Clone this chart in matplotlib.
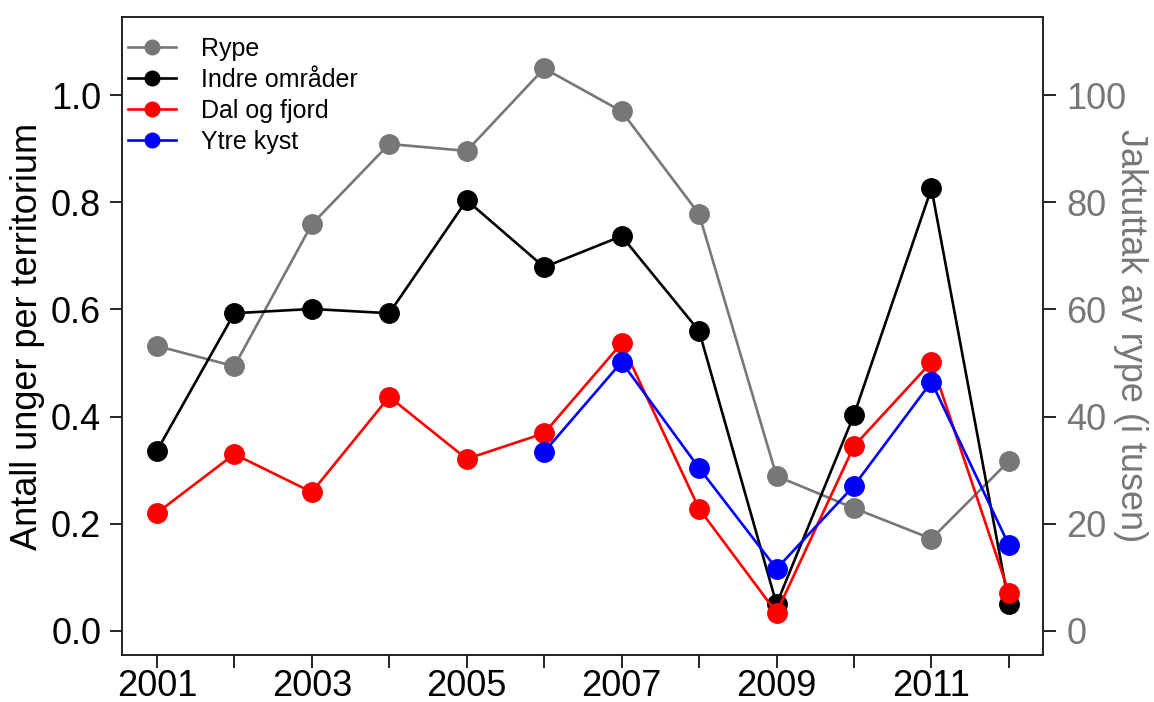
import numpy as np
import matplotlib
matplotlib.use("Agg")
import matplotlib.pyplot as plt

plt.rcParams["font.family"] = ["Liberation Sans", "DejaVu Sans"]

# ---- data ----
years = np.arange(2001, 2013)
rype = [53.2, 49.4, 75.9, 90.9, 89.6, 105.0, 97.0, 77.8, 28.9, 22.9, 17.2, 31.7]
indre = [0.336, 0.593, 0.601, 0.593, 0.804, 0.679, 0.737, 0.560, 0.050, 0.403, 0.826, 0.050]
dal = [0.220, 0.330, 0.259, 0.437, 0.321, 0.369, 0.537, 0.228, 0.034, 0.345, 0.502, 0.071]
ytre_years = np.arange(2006, 2013)
ytre = [0.334, 0.502, 0.304, 0.116, 0.271, 0.465, 0.160]

GREY = "#777777"

fig = plt.figure(figsize=(11.54, 7.02), dpi=100)
ax1 = fig.add_axes([122/1154, 1-655/702, (1043-122)/1154, (655-17)/702])
ax2 = ax1.twinx()

ms, lw = 14, 1.9
# rype on right axis, drawn first (behind)
ax2.plot(years, rype, "-o", color=GREY, ms=ms, lw=lw)
ax1.plot(years, indre, "-o", color="black", ms=ms, lw=lw)
ax1.plot(years, dal, "-o", color="red", ms=ms, lw=lw)
ax1.plot(ytre_years, ytre, "-o", color="blue", ms=ms, lw=lw)

ax1.set_zorder(ax2.get_zorder() + 1)
ax1.patch.set_visible(False)

ax1.set_xlim(2000.55, 2012.44)
ax1.set_ylim(-0.045, 1.146)
ax2.set_ylim(-4.5, 114.6)

ax1.set_xticks(years)
ax1.set_xticklabels([str(y) if y % 2 == 1 else "" for y in years])
ax1.set_yticks(np.arange(0, 1.01, 0.2))
ax1.set_yticklabels(["%.1f" % v for v in np.arange(0, 1.01, 0.2)])
ax2.set_yticks(np.arange(0, 101, 20))

ax1.tick_params(axis="both", labelsize=26, length=9, width=1.2, direction="out")
ax1.tick_params(axis="x", pad=1)
ax1.tick_params(axis="y", pad=6)
ax2.tick_params(axis="y", labelsize=26, length=9, width=1.2, labelcolor=GREY, pad=8)

ax1.set_ylabel("Antall unger per territorium", fontsize=26, labelpad=4)
ax2.set_ylabel("Jaktuttak av rype (i tusen)", fontsize=26, color=GREY,
               rotation=270, labelpad=15)

for ax in (ax1, ax2):
    for s in ax.spines.values():
        s.set_linewidth(1.2)
        s.set_color("#222222")

# legend
h = [plt.Line2D([], [], color=c, marker="o", ms=ms, lw=lw) for c in (GREY, "black", "red", "blue")]
ax1.legend(h, ["Rype", "Indre områder", "Dal og fjord", "Ytre kyst"],
           loc="upper left", frameon=False, fontsize=18, handlelength=1.9,
           handletextpad=1.0, labelspacing=0.28, borderaxespad=0.0,
           markerscale=0.75, bbox_to_anchor=(-0.004, 0.985))

fig.savefig("out.png", dpi=100)
